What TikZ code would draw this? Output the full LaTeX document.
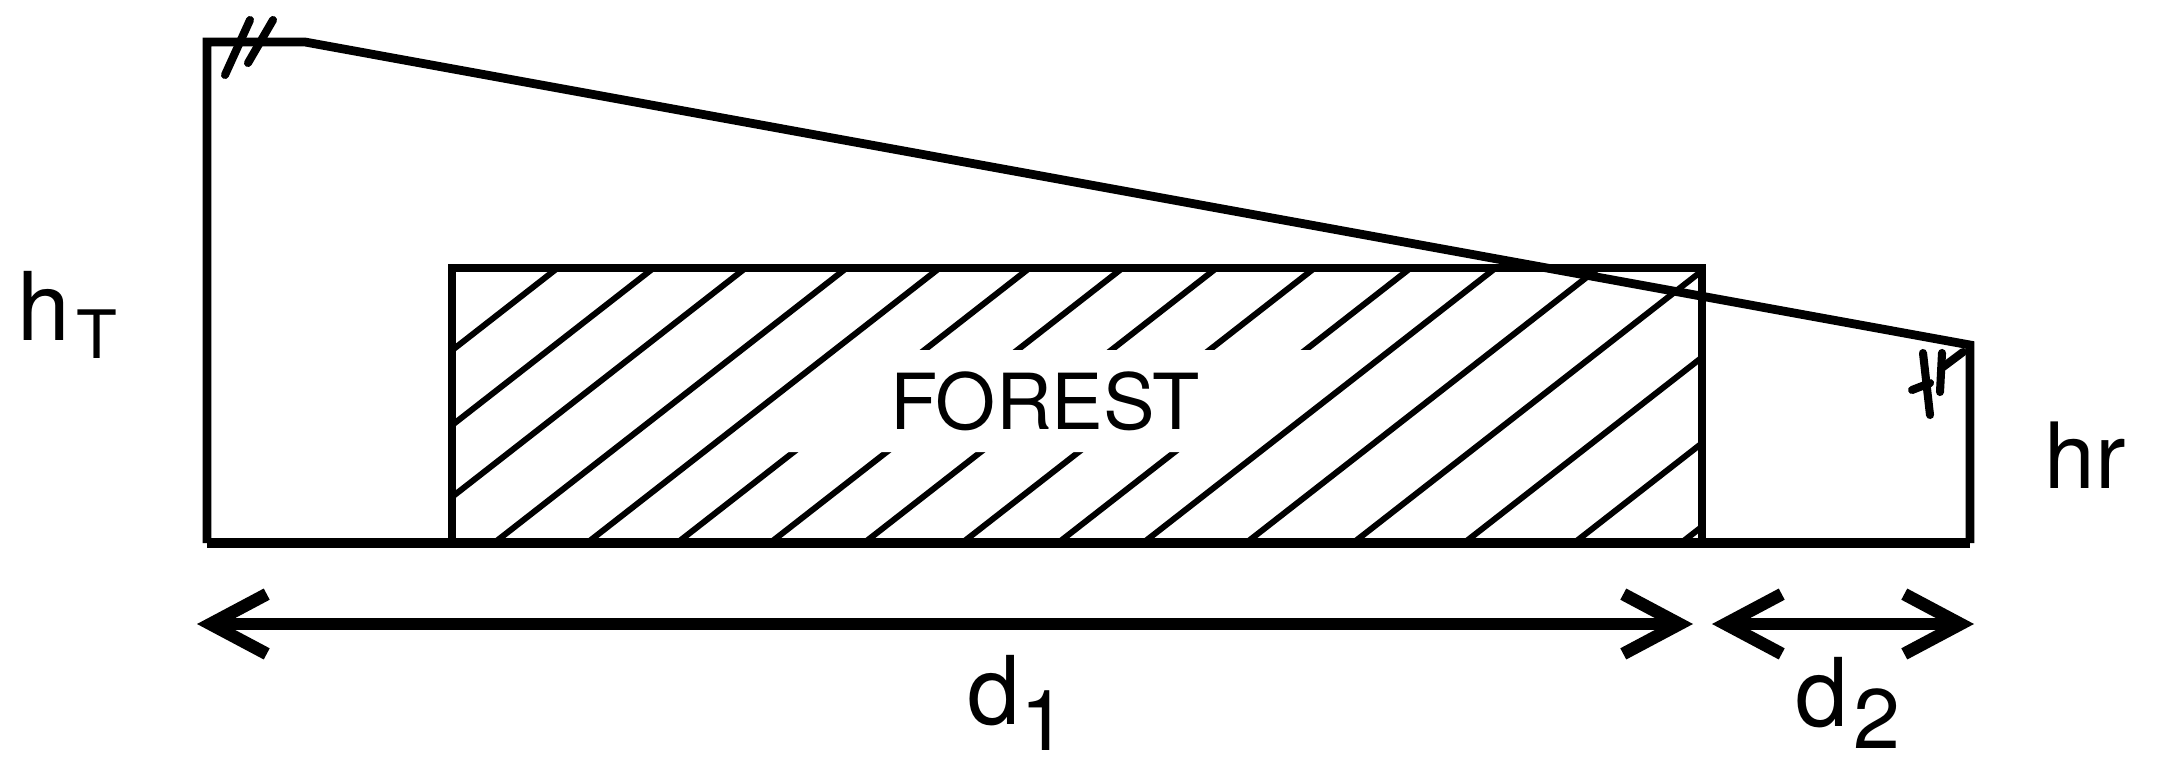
\documentclass[tikz,border=0pt]{standalone}
\usepackage{fontspec}
\setmainfont{TeX Gyre Heros}
\usepackage{tikz}
\usetikzlibrary{arrows.meta}
\tikzset{
  frameline/.style={line width=2.5pt, line join=miter},
  hatchline/.style={line width=1.7pt},
  dimline/.style={line width=3.6pt, {Straight Barb[length=16pt,width=17pt]}-{Straight Barb[length=16pt,width=17pt]}},
  breakmark/.style={line width=2.3pt, line cap=round},
  lbl/.style={inner sep=0pt, anchor=base west, font=\fontsize{27}{27}\selectfont}
}

\begin{document}
\begin{tikzpicture}
  \useasboundingbox (0,0) rectangle (21.79,7.64);
  \coordinate (gl) at (2.07,2.21);
  \coordinate (gr) at (19.70,2.21);
  \coordinate (tt) at (2.07,7.22);
  \coordinate (tk) at (3.05,7.22);
  \coordinate (rt) at (19.70,4.19);
  \coordinate (a1) at (1.97,1.40);
  \coordinate (a2) at (16.93,1.40);
  \coordinate (a3) at (17.12,1.40);
  \coordinate (a4) at (19.74,1.40);

  \begin{scope}
    \clip (4.52,2.21) rectangle (17.02,4.96);
    \foreach \x in {2.05,3.01,3.93,4.94,5.87,6.77,7.70,8.64,9.62,10.58,11.43,12.46,13.53,14.64,15.74,16.81}
      \draw[hatchline] (\x,2.21) -- ++(4,3.12);
  \end{scope}
  \fill[white] (7.60,3.12) -- (8.91,4.14) -- (13.46,4.14) -- (12.15,3.12) -- cycle;
  \draw[frameline] (4.52,2.21) rectangle (17.02,4.96);
  \node[inner sep=0pt, font=\fontsize{22}{22}\selectfont] (forest) at (10.45,3.63) {FOREST};

  \draw[frameline] (gl) -- (tt) -- (tk) -- (rt) -- (gr);
  \draw[frameline, line width=3pt] (gl) -- (gr);

  \draw[breakmark] (2.25,6.89) -- (2.50,7.44);
  \draw[breakmark] (2.48,7.01) -- (2.73,7.44);
  \draw[breakmark] (19.23,4.11) -- (19.30,3.49);
  \draw[breakmark] (19.42,4.11) -- (19.40,3.72);
  \draw[breakmark] (19.12,3.74) -- (19.30,3.81);
  \draw[breakmark] (19.43,3.97) -- (19.63,4.12);

  \draw[dimline] (a1) -- (a2);
  \draw[dimline] (a3) -- (a4);

  \node[lbl] (ht) at (0.17,4.24) {h\kern0.06cm\raisebox{-0.18cm}{\fontsize{19}{19}\selectfont T}};
  \node[lbl, font=\fontsize{26}{26}\selectfont] (hr) at (20.44,2.76) {hr};
  \node[lbl] (d1) at (9.67,0.40) {d\raisebox{-0.26cm}{\fontsize{24}{24}\selectfont 1}};
  \node[lbl] (d2) at (17.95,0.38) {d\kern0.05cm\raisebox{-0.22cm}{\fontsize{24}{24}\selectfont 2}};
\end{tikzpicture}
\end{document}
